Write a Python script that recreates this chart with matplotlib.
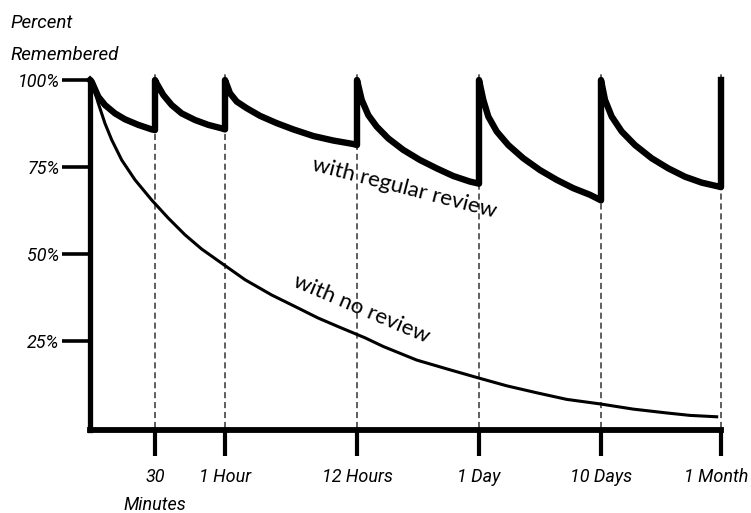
import numpy as np
import matplotlib.pyplot as plt
import matplotlib.transforms as mtransforms

# eje x esquematico: posiciones de los instantes de repaso
tick_x = [65, 135, 267, 389, 511, 631]
tick_labels = ['30\nMinutes', '1 Hour', '12 Hours', '1 Day', '10 Days', '1 Month']
y_ticks = [25, 50, 75, 100]
y_labels = ['25%', '50%', '75%', '100%']

# curva con repasos (con los saltos verticales)
review_x = [0, 1.7, 8.3, 15, 25, 35, 48.3, 61.7, 65,
            65, 66.7, 73.3, 81.7, 91.7, 105, 118.3, 131.7, 135,
            135, 140, 146.7, 156.7, 170, 186.7, 203.3, 223.3, 243.3, 263.3, 267,
            267, 271.7, 278.3, 286.7, 298.3, 313.3, 330, 346.7, 363.3, 380, 389,
            389, 393.3, 398.3, 406.7, 418.3, 433.3, 450, 466.7, 483.3, 500, 511,
            511, 515, 521.7, 531.7, 545, 561.7, 578.3, 595, 611.7, 628.3, 631,
            631]
review_y = [100, 99.5, 95.2, 92.8, 90.4, 88.7, 87.1, 85.8, 85.6,
            100, 99, 95.7, 92.8, 90.4, 88.5, 87.1, 86.1, 85.8,
            100, 96.2, 93.8, 91.9, 89.7, 87.6, 85.8, 83.9, 82.6, 81.6, 81.3,
            100, 94.3, 89.9, 86.6, 83.2, 79.9, 77, 74.6, 72.4, 70.8, 70.2,
            100, 94.3, 89.5, 85.2, 81.3, 77.5, 74.1, 71.3, 68.9, 67, 65.4,
            100, 94.3, 89.5, 85.2, 81.3, 77.5, 74.6, 72.2, 70.5, 69.4, 69.2,
            100]

# curva sin repaso
noreview_x = [0, 3.3, 8.3, 15, 21.7, 31.7, 45, 61.7, 78.3, 95, 111.7, 134.3,
              155, 181.7, 205, 228, 248.3, 275, 293.3, 326.7, 360, 388,
              416.7, 446.7, 476.7, 510, 543.3, 576.7, 600, 626.7]
noreview_y = [100, 98, 93.3, 87.5, 82.8, 77, 71.3, 65.5, 60.3, 55.5, 51.4, 46.8,
              42.6, 38.2, 34.9, 31.6, 29.1, 25.9, 23.4, 19.5, 16.7, 14.4,
              12.1, 10.1, 8.2, 6.9, 5.4, 4.3, 3.6, 3.2]

narrow = ['Roboto', 'DejaVu Sans']

fig = plt.figure(figsize=(7.51, 5.13), dpi=100)
ax = fig.add_axes([90 / 751, (513 - 430) / 513, 631 / 751, 350 / 513])
ax.set_xlim(0, 631)
ax.set_ylim(-0.6, 100)

for s in ['top', 'right']:
    ax.spines[s].set_visible(False)
ax.spines['left'].set_linewidth(3.8)
ax.spines['bottom'].set_linewidth(4.2)

ax.vlines(tick_x, 0, 101.8, colors='#333333', linestyles=(0, (4, 2.5)),
          lw=1.1, clip_on=False, zorder=1)
ax.plot(noreview_x, noreview_y, color='black', lw=2.2,
        solid_joinstyle='round', clip_on=False, zorder=2)
ax.plot(review_x, review_y, color='black', lw=4.6,
        solid_joinstyle='round', clip_on=False, zorder=3)

ax.set_xticks(tick_x)
ax.set_xticklabels(tick_labels, fontfamily=narrow, fontstyle='italic',
                   fontsize=13, linespacing=1.75, va='top')
ax.set_yticks(y_ticks)
ax.set_yticklabels(y_labels, fontfamily=narrow, fontstyle='italic', fontsize=13)
ax.tick_params(axis='x', direction='out', length=19, width=3, pad=8)
ax.tick_params(axis='y', direction='out', length=20, width=2.6, pad=2)

# la ultima etiqueta queda algo corrida a la izquierda, como en el original
last = ax.get_xticklabels()[-1]
last.set_transform(last.get_transform() +
                   mtransforms.ScaledTranslation(-5 / 100, 0, fig.dpi_scale_trans))

fig.text(10 / 751, 1 - 14 / 513, 'Percent\nRemembered', ha='left', va='top',
         fontfamily=narrow, fontstyle='italic', fontsize=13.5, linespacing=2.0)

ax.text(313.3, 67.4, 'with regular review', rotation=-14.5, ha='center',
        va='baseline', rotation_mode='anchor', fontsize=16, fontfamily='Lato')
ax.text(269, 32.5, 'with no review', rotation=-23, ha='center',
        va='baseline', rotation_mode='anchor', fontsize=16, fontfamily='Lato')

fig.savefig('out.png', dpi=100)
